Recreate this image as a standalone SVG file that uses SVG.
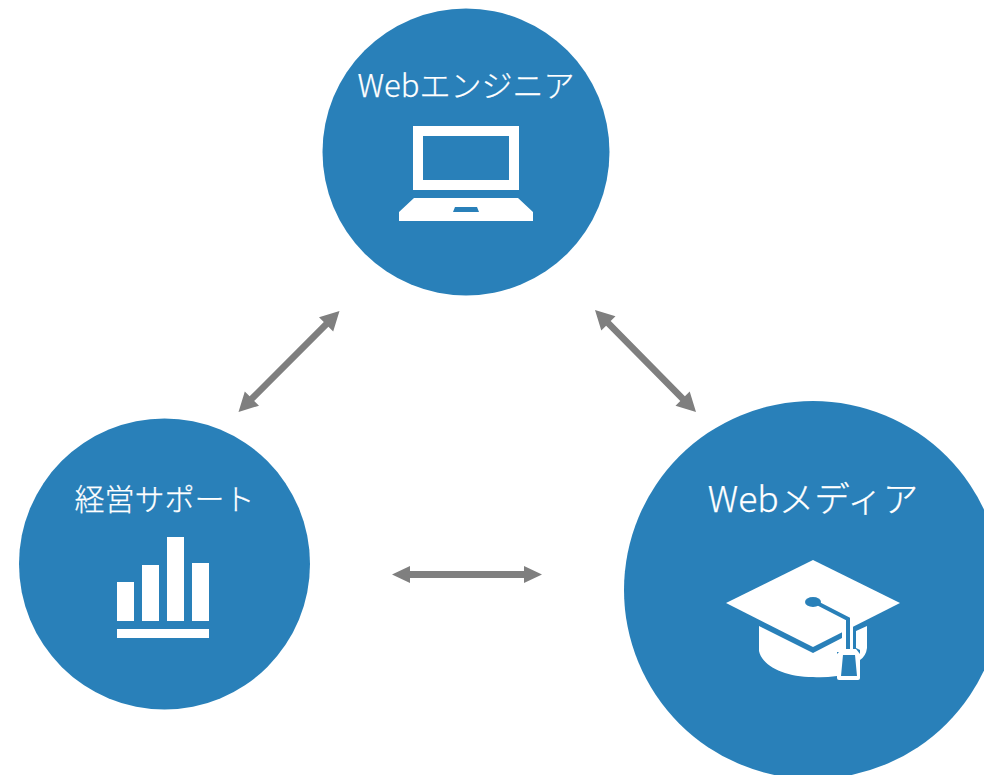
<svg xmlns="http://www.w3.org/2000/svg" width="984" height="775" viewBox="0 0 984 775">
<style>
.c{fill:#2980b9}
.i{fill:#fff}
.t{fill:#fff;stroke:#fff;stroke-width:.25;font-family:"Noto Sans CJK JP","Noto Sans",sans-serif;font-weight:300;text-anchor:middle}
.a{fill:#7f7f7f}
</style>
<rect width="984" height="775" fill="#fff"/>
<g id="connectors">
<path class="a" d="M339.500 311L333.200 331.500L328.400 326.700L254.200 400.900L259 405.700L238.500 412L244.800 391.500L249.600 396.300L323.800 322.100L319 317.300Z"/>
<path class="a" d="M595 310L615.500 316.300L610.700 321.100L684.900 396.300L689.700 391.500L696 412L675.500 405.700L680.300 400.900L606.100 325.700L601.300 330.500Z"/>
<path class="a" d="M392 574.500L410 566V571H524V566L542 574.500L524 583V578H410V583Z"/>
</g>
<g id="web-engineer">
<circle class="c" cx="466" cy="152" r="143.500"/>
<text class="t" x="466" y="97" font-size="31">Webエンジニア</text>
<path class="i" fill-rule="evenodd" d="M413 126H519V190H413ZM423 136V180H509V136Z"/>
<path class="i" fill-rule="evenodd" d="M414 198H518L533 212V221H399V212ZM455 207L453 212H479L477 207Z"/>
</g>
<g id="management-support">
<circle class="c" cx="164.500" cy="564" r="145.500"/>
<text class="t" x="164.500" y="510" font-size="30">経営サポート</text>
<rect class="i" x="117" y="582" width="17" height="39"/>
<rect class="i" x="142" y="565" width="17" height="56"/>
<rect class="i" x="167" y="537" width="17" height="84"/>
<rect class="i" x="192" y="563" width="17" height="58"/>
<rect class="i" x="117" y="629" width="92" height="9"/>
</g>
<g id="web-media">
<circle class="c" cx="813" cy="590" r="189"/>
<text class="t" x="813" y="512" font-size="35.500">Webメディア</text>
<path class="i" d="M813 560L900 603L813 647L726 603Z"/>
<path class="i" d="M759 626L813 653L842 638V652H837V676Q823 678 813 677C785 677 762 666 759 651Z"/>
<path class="i" d="M856 631L867 626V648Q866 656 860 660V650L856 648Z"/>
<rect class="i" x="842" y="622" width="11" height="30"/>
<ellipse class="c" cx="813" cy="602" rx="8" ry="5"/>
<path d="M815 602L848 619V650" fill="none" stroke="#2980b9" stroke-width="4"/>
<path class="i" d="M837 678V654L842 649H856L860 654V678Q860 680 858 680H839Q837 680 837 678Z"/>
<path class="c" d="M841 676L843 655H855L857 676Z"/>
</g>
</svg>
